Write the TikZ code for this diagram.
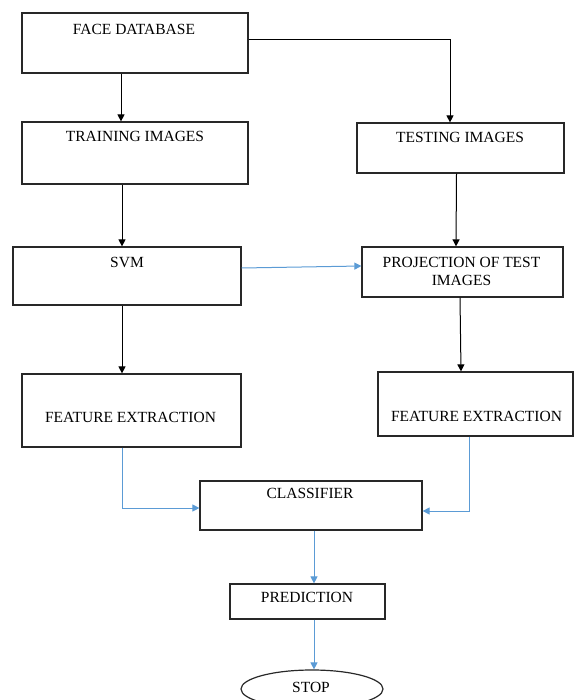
\documentclass[tikz,border=0pt]{standalone}
\usepackage{fontspec}
\setmainfont{Liberation Serif}
\usetikzlibrary{arrows.meta,shapes.geometric}
\definecolor{flowblue}{RGB}{91,155,213}
\definecolor{boxline}{RGB}{40,40,40}
\tikzset{
  box/.style={draw=boxline, line width=1.2pt, rectangle, inner sep=0pt, fill=white},
  txt/.style={inner sep=0pt, font=\fontsize{15.5}{18}\selectfont, align=center},
  arr/.style={draw=black, line width=1pt, -{Triangle[length=7pt,width=7pt]}},
  barr/.style={draw=flowblue, line width=1pt, -{Triangle[length=7pt,width=7pt]}},
}
\begin{document}
\begin{tikzpicture}[x=1pt,y=-1pt]
\useasboundingbox (0,0) rectangle (574,700);
% boxes
\node[box, minimum width=226pt, minimum height=60pt] (fd) at (135,43) {};
\node[box, minimum width=226pt, minimum height=62pt] (tr) at (135,153) {};
\node[box, minimum width=207pt, minimum height=50pt] (te) at (460.5,148) {};
\node[box, minimum width=228pt, minimum height=58pt] (svm) at (127,276) {};
\node[box, minimum width=201pt, minimum height=50pt] (proj) at (462.5,272) {};
\node[box, minimum width=219pt, minimum height=73pt] (featL) at (131.5,410.5) {};
\node[box, minimum width=195pt, minimum height=64pt] (featR) at (475.5,404) {};
\node[box, minimum width=222pt, minimum height=49pt] (cls) at (311,505.5) {};
\node[box, minimum width=155pt, minimum height=35pt] (pred) at (307.5,601.5) {};
\node[box, ellipse, minimum width=142pt, minimum height=38pt] (stop) at (312,689) {};
% texts
\node[txt] (fdt) at (134,29) {FACE DATABASE};
\node[txt] (trt) at (135,136) {TRAINING IMAGES};
\node[txt] (tet) at (460,137) {TESTING IMAGES};
\node[txt] (svmt) at (127,262) {SVM};
\node[txt] (projt) at (461.5,271) {PROJECTION OF TEST\\IMAGES};
\node[txt] (featLt) at (130.5,417) {FEATURE EXTRACTION};
\node[txt] (featRt) at (476.5,416) {FEATURE EXTRACTION};
\node[txt] (clst) at (310,493) {CLASSIFIER};
\node[txt] (predt) at (307,597) {PREDICTION};
\node[txt] (stopt) at (311,687) {STOP};
% connectors
\draw[arr] ([xshift=-14pt]fd.south) -- ([xshift=-14pt]tr.north);
\draw[arr] ([yshift=3pt]fd.east) -| ([xshift=-10.5pt]te.north);
\draw[arr] ([xshift=-13pt]tr.south) -- ([xshift=-5pt]svm.north);
\draw[arr] ([xshift=-4pt]te.south) -- ([xshift=-6.5pt]proj.north);
\draw[barr] ([yshift=8pt]svm.east) -- ([yshift=6pt]proj.west);
\draw[arr] ([xshift=-5pt]svm.south) -- ([xshift=-9.5pt]featL.north);
\draw[arr] ([xshift=-2.5pt]proj.south) -- ([xshift=-14.5pt]featR.north);
\draw[barr] ([xshift=-9.5pt]featL.south) |- ([yshift=-2.5pt]cls.west);
\draw[barr] ([xshift=-6.5pt]featR.south) |- ([yshift=-5.5pt]cls.east);
\draw[barr] ([xshift=3pt]cls.south) -- ([xshift=6.5pt]pred.north);
\draw[barr] ([xshift=6.5pt]pred.south) -- ([xshift=2pt]stop.north);
\end{tikzpicture}
\end{document}
